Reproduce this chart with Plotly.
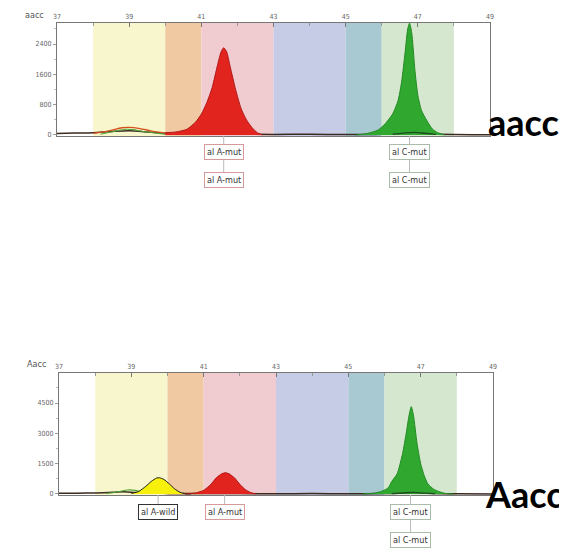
import plotly.graph_objects as go

# ---------------- data ----------------
band_edges = [38, 40, 41, 43, 45, 46, 48]
band_colors = ["#f8f6cc", "#f0c8a2", "#f0cbcf", "#c6cbe6", "#a9c9d2", "#d6e7d0"]

x_ticks = [37, 39, 41, 43, 45, 47, 49]

# top panel (aacc)
top_base_x = [37.0, 37.5, 38.0, 38.5, 39.0, 39.5, 40.0, 40.5, 41.0, 42.0, 43.0, 44.0, 45.0, 46.0, 46.5, 46.9, 47.3, 48.0, 49.0]
top_base_y = [40, 50, 60, 90, 110, 80, 40, 25, 20, 20, 15, 20, 10, 20, 40, 70, 30, 10, 5]
top_orange_x = [38.0, 38.4, 38.8, 39.0, 39.3, 39.6, 40.0]
top_orange_y = [40, 100, 190, 200, 170, 110, 50]
top_green_low_x = [38.2, 38.6, 38.9, 39.1, 39.4, 39.8, 40.0]
top_green_low_y = [20, 100, 150, 140, 90, 40, 20]
top_red_x = [40.0, 40.3, 40.6, 40.85, 41.0, 41.15, 41.3, 41.45, 41.55, 41.62, 41.7, 41.8, 41.95, 42.1, 42.25, 42.4, 42.55, 42.7]
top_red_y = [60, 80, 150, 350, 550, 850, 1250, 1850, 2200, 2300, 2200, 1800, 1200, 700, 400, 200, 60, 0]
top_green_x = [45.3, 45.6, 45.9, 46.1, 46.3, 46.45, 46.55, 46.65, 46.72, 46.77, 46.83, 46.92, 47.0, 47.1, 47.25, 47.4, 47.55, 47.75]
top_green_y = [0, 40, 130, 300, 550, 900, 1400, 2200, 2800, 2950, 2700, 1700, 1050, 650, 380, 160, 60, 0]

# bottom panel (Aacc)
bot_base_x = [37.0, 37.5, 38.0, 38.5, 38.8, 39.1, 39.5, 40.0, 41.0, 42.0, 43.0, 44.0, 45.0, 46.0, 46.5, 46.8, 47.2, 48.0, 49.0]
bot_base_y = [40, 40, 50, 80, 110, 70, 40, 30, 20, 20, 15, 20, 10, 20, 50, 90, 40, 10, 5]
bot_green_low_x = [38.3, 38.6, 38.9, 39.1, 39.3, 39.5]
bot_green_low_y = [20, 100, 200, 180, 100, 40]
bot_yellow_x = [39.0, 39.2, 39.4, 39.55, 39.7, 39.78, 39.9, 40.05, 40.2, 40.35, 40.5, 40.65]
bot_yellow_y = [30, 120, 380, 620, 790, 800, 720, 500, 250, 80, 10, 0]
bot_red_x = [40.5, 40.8, 41.0, 41.2, 41.35, 41.5, 41.6, 41.7, 41.85, 42.0, 42.15, 42.3, 42.45]
bot_red_y = [0, 60, 180, 480, 800, 1000, 1050, 1000, 800, 480, 220, 70, 0]
bot_green_x = [45.4, 45.7, 45.9, 46.1, 46.2, 46.35, 46.5, 46.6, 46.68, 46.74, 46.8, 46.9, 47.0, 47.1, 47.2, 47.35, 47.5, 47.7, 47.9]
bot_green_y = [0, 40, 120, 300, 620, 1000, 2000, 3000, 3900, 4320, 3900, 2500, 1500, 900, 500, 250, 120, 20, 0]

# labels: (text, x position, border colour)
top_labels = [("al A-mut", 41.62, "#d79a9a"), ("al C-mut", 46.77, "#a8bca8")]
bot_labels = [("al A-wild", 39.74, "#333333"), ("al A-mut", 41.58, "#d79a9a"), ("al C-mut", 46.72, "#a8bca8")]
top_second_row = ["al A-mut", "al C-mut"]
bot_second_row = ["al C-mut"]

# ---------------- geometry helpers (page has an 8px body margin) ----------------
W, H, OFF = 559, 542, 8

def px(p):
    return (p - OFF) / W

def py(p):
    return 1 - (p - OFF) / H

# ---------------- figure ----------------
fig = go.Figure()

def peak(x, y, xa, ya, fill, line):
    fig.add_trace(go.Scatter(x=x, y=y, xaxis=xa, yaxis=ya, mode="lines",
                             line=dict(color=line, width=1, shape="spline", smoothing=0.6),
                             fill="tozeroy", fillcolor=fill, hoverinfo="skip"))

def line(x, y, xa, ya, color, w=1.2):
    fig.add_trace(go.Scatter(x=x, y=y, xaxis=xa, yaxis=ya, mode="lines",
                             line=dict(color=color, width=w, shape="spline", smoothing=0.8),
                             hoverinfo="skip"))

# top
line(top_base_x, top_base_y, "x", "y", "#3a2a20", 1.5)
line(top_orange_x, top_orange_y, "x", "y", "#d9501e", 1.3)
line(top_green_low_x, top_green_low_y, "x", "y", "#52a83a", 1.1)
peak(top_red_x, top_red_y, "x", "y", "rgba(226,36,30,1)", "#b01818")
peak(top_green_x, top_green_y, "x", "y", "rgba(48,168,48,1)", "#238a23")
line([46.3, 46.6, 46.9, 47.2, 47.5], [20, 50, 70, 45, 15], "x", "y", "#1f4a1f", 1.3)

# bottom
line(bot_base_x, bot_base_y, "x2", "y2", "#3a2a20", 1.5)
line(bot_green_low_x, bot_green_low_y, "x2", "y2", "#52a83a", 1.1)
peak(bot_yellow_x, bot_yellow_y, "x2", "y2", "rgba(246,240,12,1)", "#1a1a1a")
peak(bot_red_x, bot_red_y, "x2", "y2", "rgba(226,36,30,1)", "#b01818")
peak(bot_green_x, bot_green_y, "x2", "y2", "rgba(48,168,48,1)", "#238a23")
line([46.2, 46.5, 46.8, 47.1, 47.4], [20, 50, 80, 45, 15], "x2", "y2", "#1f4a1f", 1.3)

shapes = []
for xr, yr in (("x", "y domain"), ("x2", "y2 domain")):
    for i, c in enumerate(band_colors):
        shapes.append(dict(type="rect", xref=xr, yref=yr, x0=band_edges[i], x1=band_edges[i + 1],
                           y0=0, y1=1, fillcolor=c, line=dict(width=0), layer="below"))

narrow = "DejaVu Sans Condensed, Liberation Sans Narrow, sans-serif"
tick_font = dict(family=narrow, size=7, color="#666666")
axis_common = dict(showgrid=False, zeroline=False, showline=True, linecolor="#777777", linewidth=1,
                   mirror=True, tickfont=tick_font, automargin=False)

fig.update_layout(
    width=W, height=H, margin=dict(l=0, r=0, t=0, b=0, autoexpand=False),
    paper_bgcolor="white", plot_bgcolor="white", showlegend=False,
    xaxis=dict(domain=[px(57), px(490)], range=[37, 49], side="top", anchor="y",
               tickvals=x_ticks, ticks="inside", ticklen=4, tickcolor="#777777",
               minor=dict(dtick=1, tick0=37, ticks="inside", ticklen=3, tickcolor="#999999"), **axis_common),
    yaxis=dict(domain=[py(136.1), py(23)], range=[-30, 2954], anchor="x",
               tickvals=[0, 800, 1600, 2400], ticks="outside", ticklen=3, tickcolor="#999999",
               minor=dict(dtick=400, tick0=0, ticks="outside", ticklen=2, tickcolor="#bbbbbb"), **axis_common),
    xaxis2=dict(domain=[px(59), px(493)], range=[37, 49], side="top", anchor="y2",
                tickvals=x_ticks, ticks="inside", ticklen=4, tickcolor="#777777",
                minor=dict(dtick=1, tick0=37, ticks="inside", ticklen=3, tickcolor="#999999"), **axis_common),
    yaxis2=dict(domain=[py(495.2), py(373)], range=[-60, 5984], anchor="x2",
                tickvals=[0, 1500, 3000, 4500], ticks="outside", ticklen=3, tickcolor="#999999",
                minor=dict(dtick=750, tick0=0, ticks="outside", ticklen=2, tickcolor="#bbbbbb"), **axis_common),
    shapes=shapes,
)

lab_font = dict(family=narrow, size=9, color="#333333")
annotations = []

def box(text, x, xr, ypage, border):
    annotations.append(dict(text=text, x=x, xref=xr, y=py(ypage), yref="paper",
                            showarrow=False, font=lab_font, bgcolor="white",
                            bordercolor=border, borderwidth=1, borderpad=2,
                            xanchor="center", yanchor="middle"))

def connector(x, xr, y0page, y1page):
    fig.add_shape(type="line", xref=xr, yref="paper", x0=x, x1=x,
                  y0=py(y0page), y1=py(y1page), line=dict(color="#bbbbbb", width=1))

for text, x, border in top_labels:
    connector(x, "x", 136, 180)
    box(text, x, "x", 151.5, border)
    if text in top_second_row:
        box(text, x, "x", 179.5, border)
for text, x, border in bot_labels:
    connector(x, "x2", 495, 511 if text not in bot_second_row else 539)
    box(text, x, "x2", 511.5, border)
    if text in bot_second_row:
        box(text, x, "x2", 539.5, border)

small = dict(family=narrow, size=9, color="#555555")
annotations.append(dict(text="aacc", x=px(34), y=py(14.5), xref="paper", yref="paper", showarrow=False,
                        font=small, xanchor="center", yanchor="middle"))
annotations.append(dict(text="Aacc", x=px(36), y=py(364), xref="paper", yref="paper", showarrow=False,
                        font=small, xanchor="center", yanchor="middle"))

big = dict(family="Lato, Open Sans, sans-serif", size=36, color="black")
annotations.append(dict(text="<b>aacc</b>", x=px(486), y=py(122.4), xref="paper", yref="paper",
                        showarrow=False, font=big, xanchor="left", yanchor="middle"))
annotations.append(dict(text="<b>Aacc</b>", x=px(483), y=py(494.3), xref="paper", yref="paper",
                        showarrow=False, font=big, xanchor="left", yanchor="middle"))

fig.update_layout(annotations=annotations)
fig.write_html("out.html")
